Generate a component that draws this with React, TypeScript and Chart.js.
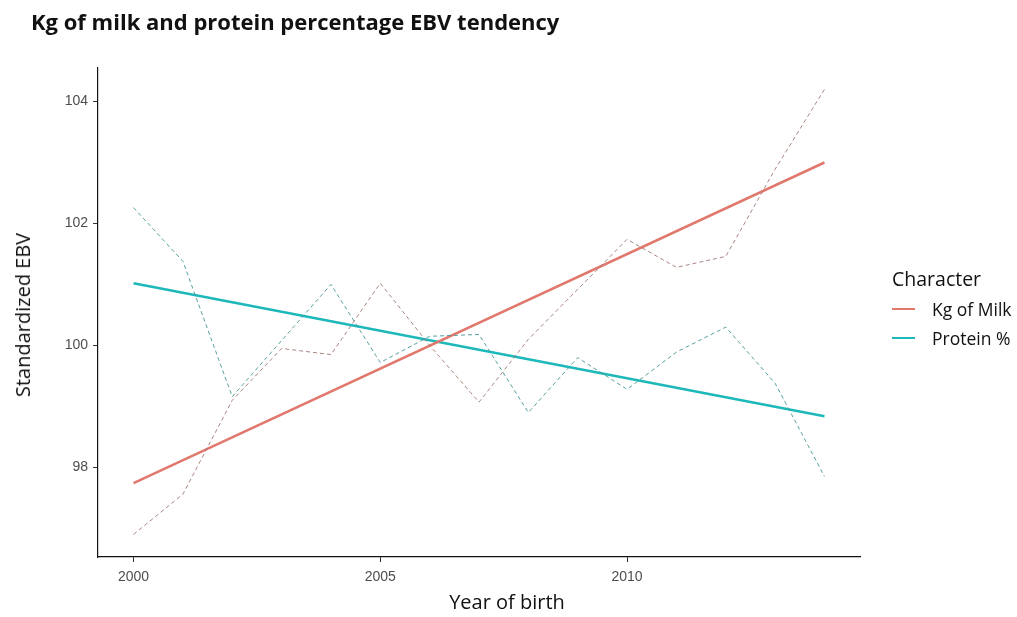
import React, { useEffect, useRef } from "react";
import { Chart, registerables } from "chart.js";

Chart.register(...registerables);

const years = [2000, 2001, 2002, 2003, 2004, 2005, 2006, 2007, 2008, 2009, 2010, 2011, 2012, 2013, 2014];
const milkValues = [96.9, 97.56, 99.1, 99.95, 99.85, 101.02, 100.0, 99.07, 100.1, 100.92, 101.74, 101.28, 101.46, 102.89, 104.2];
const proteinValues = [102.26, 101.38, 99.16, 100.08, 101.0, 99.72, 100.15, 100.18, 98.9, 99.8, 99.28, 99.89, 100.3, 99.38, 97.85];
const trendYears = [2000, 2014];
const milkTrend = [97.74, 103.0];
const proteinTrend = [101.02, 98.84];
const xTicks = [2000, 2005, 2010];
const yTicks = [98, 100, 102, 104];
const seriesNames = ["Kg of Milk", "Protein %"];

const MILK = "#e0786d";
const PROT = "#1db8b9";

export default function App() {
  const ref = useRef<HTMLCanvasElement | null>(null);

  useEffect(() => {
    document.body.style.margin = "0";
    const ctx = ref.current!;
    const pts = (xs: number[], ys: number[]) => xs.map((x, i) => ({ x, y: ys[i] }));
    const chart = new Chart(ctx, {
      type: "line",
      data: {
        datasets: [
          {
            label: seriesNames[0] + " observed",
            data: pts(years, milkValues),
            borderColor: "rgba(160,120,115,0.9)",
            borderWidth: 1,
            borderDash: [4, 3],
            pointRadius: 0,
            tension: 0,
          },
          {
            label: seriesNames[1] + " observed",
            data: pts(years, proteinValues),
            borderColor: "rgba(70,150,150,0.9)",
            borderWidth: 1,
            borderDash: [4, 3],
            pointRadius: 0,
            tension: 0,
          },
          {
            label: seriesNames[0],
            data: pts(trendYears, milkTrend),
            borderColor: MILK,
            borderWidth: 2.5,
            pointRadius: 0,
          },
          {
            label: seriesNames[1],
            data: pts(trendYears, proteinTrend),
            borderColor: PROT,
            borderWidth: 2.5,
            pointRadius: 0,
          },
        ],
      },
      options: {
        animation: false,
        responsive: false,
        maintainAspectRatio: false,
        layout: { padding: { top: 68, right: 157, left: 0, bottom: 0 } },
        plugins: { legend: { display: false }, tooltip: { enabled: false } },
        scales: {
          x: {
            type: "linear",
            min: 1999.28,
            max: 2014.72,
            afterBuildTicks: (s: any) => {
              s.ticks = xTicks.map((v) => ({ value: v }));
            },
            afterFit: (s: any) => {
              s.height = 60;
            },
            border: { display: true, color: "#111", width: 1.2 },
            grid: { drawOnChartArea: false, drawTicks: true, tickLength: 5, color: "#333" },
            ticks: {
              color: "#4d4d4d",
              font: { family: "Liberation Sans, Arial", size: 14 },
              padding: 7,
              maxRotation: 0,
              callback: (v: any) => String(v),
            },
          },
          y: {
            type: "linear",
            min: 96.53,
            max: 104.55,
            afterBuildTicks: (s: any) => {
              s.ticks = yTicks.map((v) => ({ value: v }));
            },
            afterFit: (s: any) => {
              s.width = 98;
            },
            border: { display: true, color: "#111", width: 1.2 },
            grid: { drawOnChartArea: false, drawTicks: true, tickLength: 5, color: "#333" },
            ticks: {
              color: "#4d4d4d",
              font: { family: "Liberation Sans, Arial", size: 14 },
              padding: 5,
              callback: (v: any) => String(v),
            },
          },
        },
      },
    });
    return () => chart.destroy();
  }, []);

  const legendItem = (color: string, text: string, cy: number) => (
    <div
      style={{
        position: "absolute",
        left: 892,
        top: cy - 12,
        height: 24,
        display: "flex",
        alignItems: "center",
        whiteSpace: "nowrap",
      }}
    >
      <div style={{ width: 23, height: 2.5, background: color }} />
      <span style={{ marginLeft: 17, fontFamily: "Open Sans", fontSize: 17.5, color: "#111", lineHeight: "24px" }}>
        {text}
      </span>
    </div>
  );

  return (
    <div style={{ position: "relative", width: 1017, height: 617, background: "#fff", overflow: "hidden" }}>
      <canvas ref={ref} width={1017} height={617} style={{ position: "absolute", left: 0, top: 0 }} />
      <div
        style={{
          position: "absolute",
          left: 31,
          top: 5,
          fontFamily: "Open Sans",
          fontWeight: 700,
          fontSize: 22,
          lineHeight: "32px",
          color: "#111",
          whiteSpace: "nowrap",
        }}
      >
        Kg of milk and protein percentage EBV tendency
      </div>
      <div
        style={{
          position: "absolute",
          left: 23,
          top: 315,
          transform: "translate(-50%, -50%) rotate(-90deg)",
          fontFamily: "Open Sans",
          fontSize: 20,
          lineHeight: "26px",
          color: "#111",
          whiteSpace: "nowrap",
        }}
      >
        Standardized EBV
      </div>
      <div
        style={{
          position: "absolute",
          left: 507,
          top: 602,
          transform: "translate(-50%, -50%)",
          fontFamily: "Open Sans",
          fontSize: 20,
          lineHeight: "26px",
          color: "#111",
          whiteSpace: "nowrap",
        }}
      >
        Year of birth
      </div>
      <div
        style={{
          position: "absolute",
          left: 892,
          top: 266,
          fontFamily: "Open Sans",
          fontSize: 19.5,
          lineHeight: "26px",
          color: "#111",
          whiteSpace: "nowrap",
        }}
      >
        Character
      </div>
      {legendItem(MILK, seriesNames[0], 309)}
      {legendItem(PROT, seriesNames[1], 338)}
    </div>
  );
}
